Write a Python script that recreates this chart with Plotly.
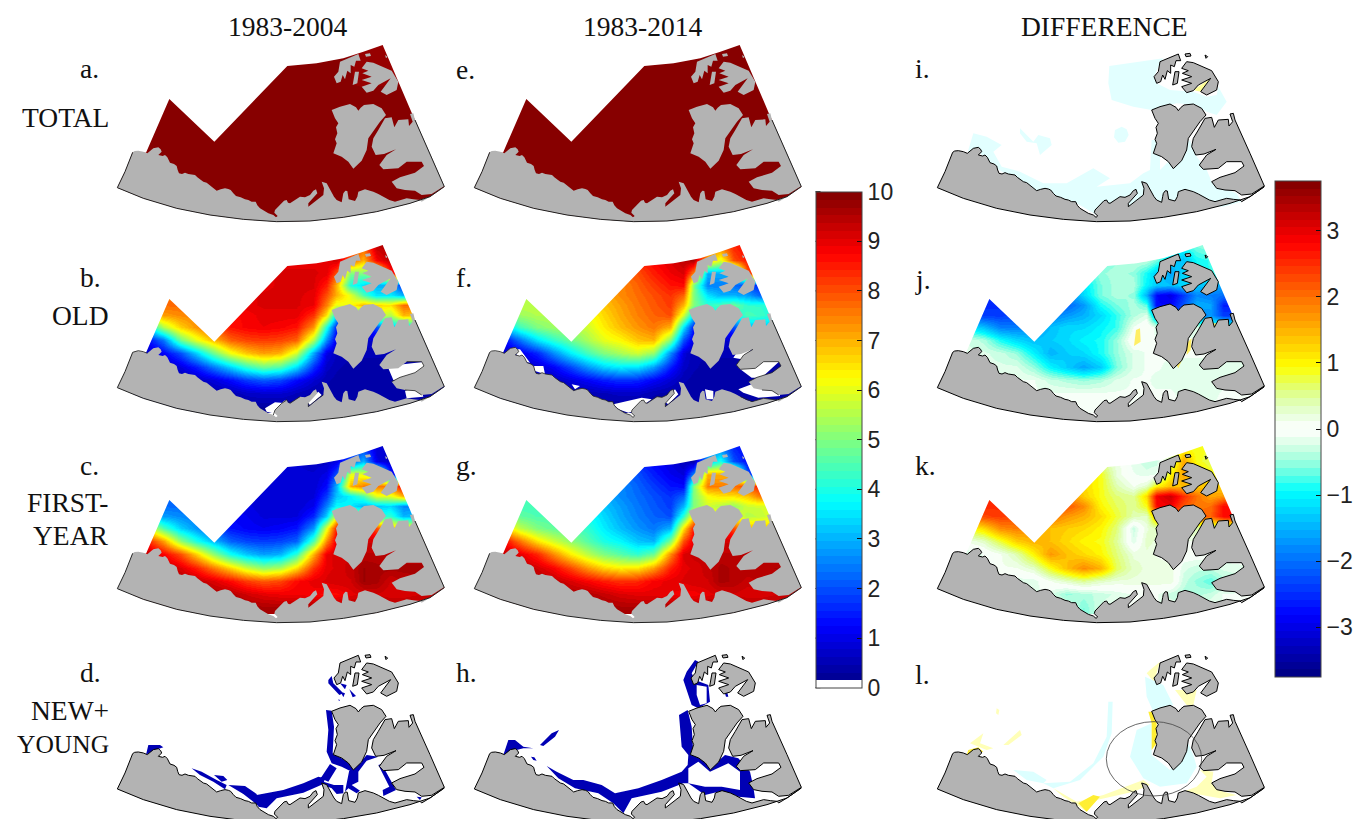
import plotly.graph_objects as go

# ---------- grid of the sea-ice fields (map units) ----------
XS = [100,160,210,260,310,360,410,460,510,560,610,650,680,720,760,800,840,880,1010]
YS = [10,60,100,135,165,195,225,260,300,340,380,420,460,500]

TOTAL_X = [100,260,310,360,680,760,1010]
TOTAL_Y = [10,130,155,185,500]
TOTAL_A = [[9.9,9.9,9.9,9.9,9.9,9.8,9.9],
           [9.9,9.9,9.9,9.9,9.9,9.8,9.9],
           [9.9,9.9,9.6,9.9,9.9,9.9,9.9],
           [9.9,9.9,9.9,9.9,9.9,9.9,9.9],
           [9.9,9.9,9.9,9.9,9.9,9.9,9.9]]
TOTAL_B = [[9.9,9.9,9.9,9.9,9.9,9.9,9.9],
           [9.9,9.9,9.9,9.9,9.9,9.9,9.9],
           [9.9,9.9,9.9,9.9,9.9,9.9,9.9],
           [9.9,9.9,9.9,9.9,9.9,9.9,9.9],
           [9.9,9.9,9.9,9.9,9.9,9.9,9.9]]

OLD_A = [
 [8,8,8,8,8,8,8,8,9,9,9,9,9,8,8,9.5,9.6,9.5,9],
 [8,8,8,8,8,8,8,9,9,9,9,9,9.2,8,7,8.8,9.4,9.4,9],
 [8,8,8,8,8,8,8.5,9,9.1,9.1,9.1,9,8,5,5,5.5,8.5,9,9],
 [8,8,8,8,8,8.5,8.8,9,9.1,9.1,9.1,8.5,7,4,3.5,3,3,1.5,1.5],
 [7.6,7.6,7.6,7.8,8,8.8,9,9.1,9.1,9.1,9,8,7,6,4.5,3.5,3.6,3,2.5],
 [7.6,7.7,7.7,7.8,8.2,9,9,9.1,9.1,9.1,8.9,7.5,6,6.2,7,6.6,6.5,7.7,7.5],
 [6.5,7.2,7.4,7.5,8.3,8.7,8.8,9,9,9,8.3,6.5,3.5,4,4,6,5.5,7,6],
 [3,5.5,6.7,7.3,8,8.6,8.8,8.9,8.8,8.6,7.3,4,1.5,1,1,2,3,3.5,3.5],
 [1,2.4,4.8,6,6.9,7.8,8.1,8.2,8.1,7.8,5.5,2.6,1,.8,.8,.8,.8,.8,.8],
 [.5,1.2,2,3.3,4.8,6.1,6.8,7.2,7,5.8,2.9,1,.6,.5,.5,.5,.5,.5,.5],
 [.3,.5,.9,1.5,2.4,3.3,4.2,4.8,4.5,3.4,1.7,.7,.5,.4,.4,.4,.4,.4,.4],
 [.3,.3,.4,.6,.9,1.3,1.8,2.1,1.9,1.3,.8,.5,.4,.4,.4,.4,.4,.4,.4],
 [.3,.3,.3,.3,.4,.5,.7,.8,.8,.6,.4,.4,.4,.4,.4,.4,.4,.4,.4],
 [.3,.3,.3,.3,.3,.3,.3,.3,.3,.3,.3,.3,.3,.3,.3,.3,.3,.3,.3]]

OLD_B = [
 [8,8,8,8,8,8,8,8,9,9,9,9.5,9.5,8,8,8.5,8.8,8.8,8.8],
 [8,8,8,8,8,8,8,8,8.4,8.8,9.1,9.4,9.6,7,6,8,8.6,8.8,8.8],
 [7,7,7,7,7,7,7.5,7.7,8,8.5,8.9,9.1,7.5,3,3,3,8,8.8,8.8],
 [6,6,6,6,6,6.5,7,7.4,7.8,8.2,8.6,8.7,5,2.5,2.5,2.3,2,1.5,1.5],
 [5.5,5.5,5.5,5.7,6,6.5,7,7.4,7.7,8,8.3,7.8,5,3.5,3,3,2.8,2.2,2],
 [5.3,5.6,5.6,5.6,5.8,6.2,6.8,7.2,7.6,7.9,8.2,7,5,4.2,4.5,4.8,4.2,4.2,3.8],
 [4.5,5.3,5.5,5.5,5.6,6.1,6.6,7.1,7.5,7.8,8,5.8,3.5,3.5,3.7,3.9,4.5,4.3,3.5],
 [3,4.4,5,5.3,5.4,5.8,6.4,6.9,7.3,7.6,7,3.5,1.5,1,1,2,3,3.2,3],
 [1,2.4,3.5,4.2,4.8,5.4,6,6.3,6.8,7,5,2,1,.8,.8,.8,.8,.8,.8],
 [.6,1,1.6,2.6,3.6,4.4,5,5.4,5.8,5.2,2.6,.9,.5,.5,.5,.5,.5,.5,.5],
 [.3,.5,.8,1.2,1.9,2.7,3.3,3.6,3.5,2.8,1.5,.7,.5,.4,.4,.4,.4,.4,.4],
 [.3,.3,.4,.6,.9,1.2,1.5,1.7,1.6,1.2,.8,.5,.4,.4,.4,.4,.4,.4,.4],
 [.3,.3,.3,.3,.4,.5,.6,.7,.7,.5,.4,.4,.4,.4,.4,.4,.4,.4,.4],
 [.3,.3,.3,.3,.3,.3,.3,.3,.3,.3,.3,.3,.3,.3,.3,.3,.3,.3,.3]]

FIRST_A = [
 [2,2,2,2,2,2,2,2,1,1,.8,.8,.8,1.5,1.5,.8,.7,.7,.7],
 [2,2,2,2,2,2,2,1,.8,.8,.7,.7,1,2,3,1,.7,.7,.7],
 [2,2,2,2,2,2,1.5,.9,.8,.8,.8,1,2,6,6,5.5,1.5,.8,.8],
 [2,2,2,2,2,1.5,1.1,.9,.8,.8,.8,1.3,3,7,7.5,7.5,7.5,9,9],
 [2.3,2.3,2.3,2.1,1.8,1.1,.9,.8,.8,.8,.9,1.8,3.2,3.7,4.5,6,6,7,7.5],
 [2.3,2.3,2.3,2.1,1.7,1,1,.8,.8,.8,1.1,2.5,3.8,3.6,3,3.2,3.4,2.6,2.5],
 [3.3,2.8,2.6,2.4,1.7,1.2,1.1,.9,.9,.9,1.6,3.3,6,5.8,5.8,4,4.2,3,3.8],
 [6.5,4.5,3.3,2.7,2,1.4,1.2,1.1,1.2,1.4,2.7,6,8.5,9,9,8,7,6.5,6.5],
 [8.8,7.2,5.2,4,3.1,2.2,1.9,1.8,1.9,2.2,4.5,7.4,9,9.2,9.2,9.2,9.2,9.2,9.2],
 [9.5,8.8,8,6.7,5.2,3.9,3.2,2.8,3,4.2,7,8.9,9.2,9.2,9.4,9.4,9.4,9.4,9.4],
 [9.7,9.5,9.1,8.5,7.6,6.7,5.8,5.2,5.5,6.6,8.3,9,9.1,9.3,9.7,9.6,9.6,9.6,9.6],
 [9.7,9.7,9.6,9.4,9.1,8.7,8.2,7.9,8.1,8.7,9,9.1,9.2,9.2,9.7,9.6,9.2,9.4,9.6],
 [9.7,9.7,9.7,9.7,9.6,9.5,9.2,9,8.9,8.9,8.8,8.7,8.7,9,9.1,9.2,9.1,9.1,9.4],
 [9.7,9.7,9.7,9.7,9.7,9.7,9.7,9.6,9.6,9.6,9.6,9.6,9.6,9.6,9.6,9.6,9.6,9.6,9.6]]

FIRST_B = [
 [2,2,2,2,2,2,2,2,1,1,.7,.5,.5,2,2,1.5,1.2,1.2,1.2],
 [2,2,2,2,2,2,2,2,1.6,1.2,.9,.6,.4,3,4,2,1.3,1.2,1.2],
 [3,3,3,3,3,3,2.5,2.3,2,1.5,1.1,.9,2.5,7,7,7,2,1.2,1.2],
 [4,4,4,4,4,3.5,3,2.6,2.2,1.8,1.4,1.3,5,7.5,7.5,7.7,8,8.5,8.5],
 [4.5,4.5,4.5,4.3,4,3.5,3,2.6,2.3,2,1.7,2.2,5,6.2,6.5,6.5,6.8,7.6,8],
 [4.7,4.4,4.4,4.4,4.2,3.8,3.2,2.8,2.4,2.1,1.8,3,5,5.8,5.5,5.2,5.8,5.8,6.2],
 [5.5,4.7,4.5,4.5,4.4,3.9,3.4,2.9,2.5,2.2,2,4.2,6.5,6.5,6.3,6.1,5.5,5.7,6.5],
 [7,5.6,5,4.7,4.6,4.2,3.6,3.1,2.7,2.4,3,6.5,8.5,9,9,8,7,6.8,7],
 [9,7.6,6.5,5.8,5.2,4.6,4,3.7,3.2,3,5,8,9,9.2,9.2,9.2,9.2,9.2,9.2],
 [9.4,9,8.4,7.4,6.4,5.6,5,4.6,4.2,4.8,7.4,9.1,9.3,9.3,9.4,9.4,9.4,9.4,9.4],
 [9.7,9.5,9.2,8.8,8.1,7.3,6.7,6.4,6.5,7.2,8.5,9,9.1,9.3,9.6,9.5,9.5,9.5,9.6],
 [9.7,9.7,9.6,9.4,9.1,8.8,8.5,8.3,8.4,8.8,9,9.1,9.2,9.2,9.6,9.5,9.3,9.4,9.6],
 [9.7,9.7,9.7,9.7,9.6,9.5,9.3,9.1,9,9,8.9,8.8,8.8,9,9.1,9.2,9.1,9.1,9.4],
 [9.7,9.7,9.7,9.7,9.7,9.7,9.7,9.6,9.6,9.6,9.6,9.6,9.6,9.6,9.6,9.6,9.6,9.6,9.6]]

DIFF_OLD = [
 [-1,-1,-1,-1,-1,-1,-1,-1,-.6,-.6,-.6,-.6,-.6,-.6,-.7,-.5,-.4,-.6,-.6],
 [-1,-1,-1,-1,-1,-1,-1,-1,-.6,-.5,-.3,-.3,-.6,-1.2,-1.4,-.9,-.8,-.8,-.8],
 [-1.2,-1.2,-1.2,-1.2,-1.2,-1.2,-1.2,-.9,-.5,-.4,-.5,-.9,-1.3,-1.6,-1.2,-1,-.8,-.8,-.8],
 [-2,-2,-2,-1.8,-1.6,-1.5,-1.4,-1.1,-.6,-.4,-.4,-1,-1.3,-1.4,-1.2,-1.3,-1.4,-1.6,-1.5],
 [-2.4,-2.7,-2.5,-2.2,-2,-2,-1.9,-1.2,-.6,-.4,-.5,-1.5,-2.8,-3,-2.4,-1.8,-1.9,-2,-2],
 [-2.2,-2.5,-2.5,-2.4,-2.2,-2.2,-2.1,-1.7,-.9,-.6,-.4,-.7,-2.8,-2.8,-2.2,-1.5,-1.6,-2.6,-2.6],
 [-2.2,-2.4,-2.4,-2.3,-2,-1.9,-1.7,-1.5,-1.2,-.8,-.4,-.2,-1.6,-2,-2,-2,-1.7,-2.4,-2.4],
 [-1,-1.4,-1.9,-1.9,-1.7,-1.4,-1.2,-1.2,-1,-.8,-.1,.1,-.2,-.2,-.2,-.2,-.5,-.5,-.5],
 [-.2,-.4,-.9,-1.2,-1.4,-1.3,-1.2,-1,-.9,-.5,.1,-.1,-.1,-.1,-.1,-.1,-.1,-.1,-.1],
 [-.2,-.2,-.3,-.5,-1,-1.5,-1.3,-1.2,-.9,-.5,-.2,-.1,-.1,-.1,-.1,-.1,-.1,-.1,-.1],
 [-.1,-.2,-.2,-.2,-.5,-1,-1.3,-1.6,-1.3,-.6,-.2,-.1,-.1,-.15,-.15,-.15,-.15,-.15,-.15],
 [-.1,-.1,-.1,-.1,-.1,-.3,-.4,-.5,-.4,-.2,-.1,-.1,-.15,-.15,-.2,-.2,-.2,-.15,-.1],
 [-.1,-.1,-.1,-.1,-.1,-.1,-.1,-.1,-.1,-.1,-.1,-.1,-.1,-.1,-.15,-.15,-.15,-.1,-.1],
 [-.1,-.1,-.1,-.1,-.1,-.1,-.1,-.1,-.1,-.1,-.1,-.1,-.1,-.1,-.1,-.1,-.1,-.1,-.1]]

DIFF_FIRST = [
 [1,1,1,1,1,1,1,1,.4,.2,-.3,-.3,.3,.4,.8,.8,.9,.9,.9],
 [1,1,1,1,1,1,1,1,.5,.2,-.2,-.3,-.3,.5,1.6,.9,.7,.9,.9],
 [1,1,1,1,1,1,1.2,1.2,.9,.2,-.1,-.2,-.1,1,1.6,1.3,.9,1,1],
 [2,2,2,1.5,1.5,1.5,1.4,1.2,.9,.4,.1,.3,1,1.4,1.4,1.3,1.4,1.2,1.2],
 [2.4,2.6,2.6,2.4,2.2,2,1.9,1.3,.9,.6,.5,1.2,2.9,3.2,2.5,2,1.6,1.7,1.8],
 [2.2,2.5,2.5,2.5,2.4,2.4,2.2,1.8,1,.7,.5,.9,2.8,2.9,2.2,1.9,2,2.8,2.8],
 [2,2.3,2.4,2.3,2.2,2,1.7,1.5,1.2,.8,.4,.3,1.5,1.7,1.9,2.2,2.1,2.8,2.8],
 [.8,1.2,1.8,1.9,1.7,1.4,1.3,1.2,1,.6,-.3,.2,.4,.4,.4,.4,.3,.2,.2],
 [.1,.3,.8,1.3,1.5,1.4,1.2,1,.9,.5,-.2,.3,.2,.1,.1,.1,.1,.1,.1],
 [-.3,-.1,.1,.4,1,1.7,1.4,1.2,1,.6,.2,.2,.1,0,0,0,0,0,0],
 [-.1,-.2,.1,.1,.3,.9,1.4,1.8,1.5,.7,.3,.2,.2,.2,-.2,-.3,-.3,-.2,-.1],
 [-.1,-.1,-.1,-.2,-.2,.1,.3,.5,.3,.2,.2,.2,.2,.2,-.3,-.5,-.7,-.4,-.1],
 [-.1,-.1,-.1,-.1,-.1,-.2,-.5,-.4,-.3,-.2,-.1,-.1,-.1,-.3,-.4,-.4,-.3,-.1,-.1],
 [-.1,-.1,-.1,-.1,-.1,-.1,-.1,-.6,-.2,-.1,-.1,-.1,-.1,-.1,-.1,-.1,-.1,-.1,-.1]]

# ---------- map outlines (map units) ----------
ARC = [(22,443),(100,475),(200,505),(300,525),(400,538),(500,545),(600,543),(700,532),(800,515),(900,490),(960,470),(1003,440)]
EAST_EDGE = [(1003,440),(960,340),(915,240),(905,218),(818,15)]
NORTH_EDGE = [(818,15),(760,35),(700,55),(620,70),(532,78)]
NOTCH = [(313,305),(178,177),(108,338),(68,337)]
WEST_EDGE = [(68,337),(45,395),(22,443)]

COAST_S = [(68,337),(74,333),(85,332),(100,335),(112,340),(122,332),(130,325),(145,322),(152,328),(155,335),(145,345),(158,348),(165,345),
           (172,352),(176,362),(180,368),(192,372),(200,378),(203,390),(207,400),(216,402),(225,398),(235,402),(245,403),(255,405),(262,412),
           (272,418),(280,425),(290,428),(300,437),(310,444),(320,452),(332,448),(345,445),(355,447),(362,450),(370,460),(378,468),(392,472),
           (405,478),(415,480),(425,485),(437,485),(442,496),(450,505),(462,513),(475,520),(490,525),(498,532),(503,528),(493,518),(495,510),
           (505,500),(515,490),(522,482),(530,480),(534,488),(540,490),(550,484),(570,470),(585,472),(600,465),(610,452),(618,448),(622,460),
           (608,475),(595,490),(595,500),(610,488),(625,475),(640,465),(642,445),(635,425),(650,430),(658,445),(665,455),(672,470),(680,480),
           (695,487),(698,470),(700,460),(706,452),(712,453),(716,478),(735,483),(742,470),(745,455),(765,448),(790,455),(805,462),(820,470),
           (838,480),(855,485),(875,480),(890,475),(910,478),(930,480),(935,485),(960,470)]
LAND_P1 = [(665,210),(690,200),(720,192),(738,202),(745,212),(752,203),(762,195),(790,192),(815,205),(828,225),(810,245),(790,275),(775,295),
           (770,330),(755,362),(730,386),(715,365),(695,350),(670,340),(680,310),(675,298),(682,280),(678,262),(685,250),(675,235)]
LAND_P2 = [(825,235),(845,232),(853,262),(865,240),(895,238),(897,258),(908,245),(900,222),(910,220),(915,240),(960,340),(1003,438),(965,462),(935,465),
           (915,452),(885,450),(860,445),(845,425),(870,412),(915,398),(942,378),(935,365),(890,365),(865,385),(820,388),(808,375),
           (830,345),(858,328),(822,342),(797,345),(785,320),(790,295),(805,270)]
ISLE_A = [(690,65),(720,52),(745,42),(752,62),(738,62),(733,80),(722,75),(722,100),(712,92),(705,118),(698,105),(692,125),(680,130),(672,110),(685,95)]
ISLE_B = [(755,85),(770,65),(790,68),(815,80),(845,92),(865,125),(860,150),(830,165),(812,155),(842,115),(805,135),(790,152),
          (770,158),(755,140),(785,130),(755,120),(785,110),(757,100),(775,92)]
ISLE_C = [(735,95),(747,95),(742,130),(728,135)]
ISLE_D = [(765,42),(780,40),(783,48),(768,50)]
ISLE_E = [(825,45),(833,50),(828,55)]
LANDS = [COAST_S + ARC[::-1] + WEST_EDGE[1:2], LAND_P1, LAND_P2, ISLE_A, ISLE_B, ISLE_C, ISLE_D, ISLE_E]

# ---------- patches that have no ice or thin features ----------
WHITE_OLD_A = [[(465,505),(495,487),(530,490),(510,525),(470,515)],
               [(590,485),(625,455),(635,465),(600,495)],
               [(835,385),(860,375),(945,365),(945,385),(880,420),(850,420)],
               [(885,452),(930,440),(940,470),(890,475)]]
WHITE_OLD_B = [[(144,328),(159,328),(189,368),(154,363)],[(199,378),(229,378),(234,403),(204,393)],[(314,433),(339,438),(324,448)],
               [(439,493),(484,483),(524,473),(554,478),(504,513),(484,518),(454,508)],[(589,483),(624,448),(634,463),(604,493)],
               [(714,448),(739,453),(739,478),(719,478)],[(814,383),(834,363),(944,358),(884,413),(854,413)],
               [(809,338),(854,328),(824,358),(799,353)],[(814,448),(854,433),(939,443),(939,468),(874,473),(829,458)]]
COAST_OLD_A = [[(68,337),(85,332),(100,335),(112,340)],
               [(490,525),(495,510),(515,490),(530,480),(540,490),(570,470)],
               [(595,490),(595,500),(625,475),(640,465)],
               [(845,425),(870,412),(915,398),(942,378),(935,365),(890,365)],
               [(885,450),(915,452),(935,465)]]
COAST_OLD_B = [COAST_S[:COAST_S.index((640,465))],
               [(845,425),(870,412),(915,398),(942,378),(935,365),(890,365),(865,385),(820,388),(808,375),(830,345),(858,328)],
               [(820,470),(855,485),(890,475),(930,480)],[(885,450),(915,452),(935,465)]]

TOTAL_DIFF_CYAN = [[(538,78),(700,55),(690,70),(672,110),(680,130),(720,150),(790,155),(830,170),(860,165),(865,140),(890,185),(860,225),
                    (830,215),(800,195),(740,190),(665,210),(610,200),(545,180),(535,130)],
                   [(115,330),(130,280),(170,290),(215,315),(190,335),(215,380),(270,395),(340,430),(410,430),(490,385),(540,415),(500,440),
                    (600,430),(640,400),(660,390),(665,300),(690,300),(690,390),(780,300),(800,350),(830,390),(845,425),(880,445),(920,460),
                    (935,485),(880,500),(700,500),(500,525),(440,490),(320,460),(200,385),(150,340),(115,345)],
                   [(270,265),(310,305),(325,285),(360,295),(365,315),(330,345),(320,310),(290,305),(270,280)],
                   [(575,260),(590,268),(596,285),(585,305),(565,308),(552,292),(555,270)]]
TOTAL_DIFF_YELLOW = [[(790,150),(842,115),(812,155)]]

OLD_DIFF_YELLOW = [[(618,270),(630,265),(632,305),(612,318)],[(770,310),(785,295),(782,330),(770,345)],
                   [(848,250),(858,250),(856,275),(848,275)],[(740,375),(755,362),(745,385)]]

YOUNG_A = [[(115,311),(150,311),(160,318),(130,328),(108,340)],[(245,381),(275,391),(320,416),(350,431),(345,444),(310,421),(270,401)],
           [(312,401),(340,404),(352,416),(335,421)],[(355,431),(405,434),(440,458),(445,494),(430,481),(400,458),(375,443)],
           [(440,461),(520,446),(580,426),(625,406),(645,411),(640,428),(580,454),(500,471),(470,501),(445,496)],
           [(648,206),(665,208),(672,256),(668,336),(700,354),(720,366),(735,381),(725,391),(695,376),(665,366),(650,331),(655,266)],
           [(660,368),(680,381),(655,421),(632,411)],[(640,421),(672,431),(700,431),(700,456),(680,458),(665,441),(640,431)],
           [(735,381),(770,341),(805,346),(770,358),(745,391),(745,421),(725,431),(750,448),(740,456),(715,441),(705,451),(710,421),(718,386)],
           [(805,371),(815,368),(858,446),(820,464),(818,446),(838,436)],[(920,466),(935,468),(930,476)],
           [(655,116),(665,104),(670,126),(700,156),(688,161),(665,136),(655,126)],[(690,126),(710,131),(705,144)],
           [(692,151),(705,156),(700,168)],[(718,144),(738,164),(728,168)],[(685,174),(690,176),(687,180)]]
YOUNG_B = [[(109,341),(124,296),(144,296),(169,316),(199,321),(169,321),(129,331)],[(219,311),(254,276),(276,266),(264,286),(229,314)],
           [(192,346),(202,348),(209,358),(199,356)],
           [(239,374),(269,391),(319,416),(349,416),(404,431),(444,456),(514,441),(584,416),(644,391),(662,371),(664,341),(644,316),(636,221),
            (662,206),(674,256),(679,336),(704,351),(729,381),(774,341),(814,351),(849,391),(859,436),(864,471),(814,466),(754,451),(714,461),
            (664,426),(649,426),(584,451),(494,471),(469,516),(439,486),(394,456),(324,441),(274,411)],
           [(684,56),(694,61),(674,96),(684,116),(724,131),(729,181),(694,201),(674,191),(649,116),(659,91)],
           [(769,141),(779,146),(784,166),(777,166)]]
YOUNG_B_HOLES = [[(664,381),(694,361),(729,391),(784,366),(819,391),(819,446),(764,436),(714,436),(664,426)],
                 [(689,131),(719,136),(719,186),(699,191),(689,161)]]

YOUNG_DIFF_PALE_Y = [[(120,306),(160,276),(150,306),(190,321),(170,326)],[(220,311),(270,266),(275,281),(235,311)],
                     [(200,201),(208,206),(205,221),(198,216)],[(690,61),(672,121),(650,96),(660,86)],[(735,146),(800,146),(790,191),(770,191)],
                     [(370,441),(440,481),(520,461),(590,436),(640,416),(660,431),(610,451),(500,476),(470,511),(440,491),(400,466)],
                     [(810,386),(850,391),(845,426),(880,451),(920,461),(870,471),(760,451),(800,436),(830,406)]]
YOUNG_DIFF_CYAN = [[(535,181),(548,181),(545,276),(520,346),(450,416),(370,441),(340,426),(420,421),(490,366),(530,286)],
                   [(250,386),(310,391),(350,416),(340,426),(290,416)],[(645,106),(700,131),(730,191),(670,211),(650,166)],
                   [(620,266),(665,246),(665,341),(720,386),(770,296),(790,341),(800,376),(770,426),(690,436),(640,411),(600,346)]]
YOUNG_DIFF_STRONG_Y = [[(115,326),(145,318),(160,331),(110,341)],[(655,211),(668,211),(680,246),(680,306),(665,326),(665,246)],
                       [(445,486),(490,461),(510,466),(470,511)]]
ELLIPSE_L = [529,241,815,464]

# ---------- tick labels and text ----------
TICKS_TOP = [0,1,2,3,4,5,6,7,8,9,10]
TICKS_DIFF = [-3,-2,-1,0,1,2,3]
DIFF_MAX = 3.75
TITLES = ["1983-2004","1983-2014","DIFFERENCE"]
PANEL_LETTERS = ["a.","b.","c.","d.","e.","f.","g.","h.","i.","j.","k.","l."]
ROW_NAMES = ["TOTAL","OLD","FIRST-","YEAR","NEW+","YOUNG"]

# ---------- layout constants ----------
W, H = 1356, 819
COL_PX = [110, 467, 930]
ROW_PX = [40, 240, 441, 641.3]
PANEL_W, PANEL_H = 345, 190
LAND = "#b3b3b3"

def jet(t):
    def c(x):
        return max(0.0, min(1.0, 1.5 - abs(4 * t - x)))
    return c(3.0), c(2.0), c(1.0)

def rgb(r, g, b):
    return f"rgb({round(r*255)},{round(g*255)},{round(b*255)})"

def stepped(colors):
    n = len(colors); out = []
    for i, col in enumerate(colors):
        out += [[i / n, col], [(i + 1) / n, col]]
    return out

levels = [(i + 0.5) / 64 for i in range(64)]
top_cols = [rgb(*jet(t)) for t in levels]
top_cols[0] = "rgb(255,255,255)"
diff_cols = []
for t in levels:
    v = abs(2 * t - 1) * DIFF_MAX
    r, g, b = jet(t)
    k = max(0.0, 1 - v / 0.94)
    diff_cols.append(rgb(r + (1 - r) * k, g + (1 - g) * k, b + (1 - b) * k))

fig = go.Figure()
layout = {}

def axes(col, row):
    n = col * 4 + row + 1
    s = "" if n == 1 else str(n)
    h = min(PANEL_H, H - ROW_PX[row])
    x0, y0 = COL_PX[col], ROW_PX[row]
    layout["xaxis" + s] = dict(domain=[x0 / W, (x0 + PANEL_W) / W], range=[0, PANEL_W * 3], visible=False, fixedrange=True)
    layout["yaxis" + s] = dict(domain=[1 - (y0 + h) / H, 1 - y0 / H], range=[h * 3, 0], visible=False, fixedrange=True)
    return "x" + s, "y" + s

def polys(ax, items, fill=None, line=None, width=1):
    xs, ys = [], []
    for p in items:
        pts = list(p) + ([p[0]] if fill else [])
        xs += [q[0] for q in pts] + [None]
        ys += [q[1] for q in pts] + [None]
    fig.add_trace(go.Scatter(x=xs, y=ys, xaxis=ax[0], yaxis=ax[1], mode="lines", hoverinfo="skip", showlegend=False,
                             fill="toself" if fill else None, fillcolor=fill,
                             line=dict(color=line or "rgba(0,0,0,0)", width=width if line else 0)))

def field(ax, z, cax, x=XS, y=YS):
    fig.add_trace(go.Heatmap(x=x, y=y, z=z, xaxis=ax[0], yaxis=ax[1], coloraxis=cax, zsmooth="best", hoverinfo="skip"))

RING = ARC + EAST_EDGE[1:] + NORTH_EDGE[1:] + NOTCH + WEST_EDGE[1:]
CORNER = [(0,-30),(1040,-30),(1040,610),(0,610),(0,-30)]
MASK = CORNER + RING + [(0,-30)]
EDGE_LINES = [ARC, WEST_EDGE, [(915,240),(960,340),(1003,440)]]

def land(ax, outline):
    polys(ax, LANDS, fill=LAND, line="#000000" if outline else None, width=1)
    if not outline:
        polys(ax, EDGE_LINES, line="#222222", width=1)

def panel(col, row, z=None, cax="coloraxis", gx=XS, gy=YS, layers=(), outline=False, coast=None):
    ax = axes(col, row)
    if z is not None:
        field(ax, z, cax, gx, gy)
        polys(ax, [MASK], fill="#ffffff")
    for items, colour in layers:
        polys(ax, items, fill=colour)
    land(ax, outline)
    if coast:
        polys(ax, coast, line="#222222", width=0.8)
    return ax

panel(0, 0, TOTAL_A, gx=TOTAL_X, gy=TOTAL_Y)
panel(0, 1, OLD_A, layers=[(WHITE_OLD_A, "#ffffff")], coast=COAST_OLD_A)
panel(0, 2, FIRST_A)
panel(0, 3, layers=[(YOUNG_A, "#0000b4")], outline=True)
panel(1, 0, TOTAL_B, gx=TOTAL_X, gy=TOTAL_Y)
panel(1, 1, OLD_B, layers=[(WHITE_OLD_B, "#ffffff")], coast=COAST_OLD_B)
panel(1, 2, FIRST_B)
panel(1, 3, layers=[(YOUNG_B, "#0000b4"), (YOUNG_B_HOLES, "#ffffff")], outline=True)
panel(2, 0, layers=[(TOTAL_DIFF_CYAN, "#e2ffff"), (TOTAL_DIFF_YELLOW, "#ffff99")], outline=True)
panel(2, 1, DIFF_OLD, cax="coloraxis2", layers=[(OLD_DIFF_YELLOW, "#ffee66")], outline=True)
panel(2, 2, DIFF_FIRST, cax="coloraxis2", outline=True)
axl = panel(2, 3, layers=[(YOUNG_DIFF_PALE_Y, "#ffffb8"), (YOUNG_DIFF_CYAN, "#dcffff"), (YOUNG_DIFF_STRONG_Y, "#ffee33")], outline=True)

def bar(x_px, top_px, bot_px, vals):
    return dict(x=x_px / W, xanchor="left", xpad=0, y=1 - bot_px / H, yanchor="bottom", ypad=0,
                len=(bot_px - top_px) / H, lenmode="fraction", thickness=46, thicknessmode="pixels",
                outlinecolor="#444444", outlinewidth=1, ticks="inside", ticklen=5, tickwidth=1, tickcolor="#111111",
                tickmode="array", tickvals=vals, ticktext=[str(v).replace("-", "\u2212") for v in vals],
                tickfont=dict(family="Liberation Sans", size=23, color="#222222"))

BAR1 = (815.5, 191.7, 687.7)
BAR2 = (1275, 181, 677)
layout["coloraxis"] = dict(cmin=0, cmax=10, colorscale=stepped(top_cols), colorbar=bar(*BAR1, TICKS_TOP))
layout["coloraxis2"] = dict(cmin=-DIFF_MAX, cmax=DIFF_MAX, colorscale=stepped(diff_cols), colorbar=bar(*BAR2, TICKS_DIFF))

shapes = [dict(type="circle", xref=axl[0], yref=axl[1], x0=ELLIPSE_L[0], y0=ELLIPSE_L[1], x1=ELLIPSE_L[2], y1=ELLIPSE_L[3],
               line=dict(color="#444444", width=0.8))]
for (x, top, bot), vals, lo, hi in ((BAR1, TICKS_TOP, 0, 10), (BAR2, TICKS_DIFF, -DIFF_MAX, DIFF_MAX)):
    for v in vals:
        py = bot - (v - lo) / (hi - lo) * (bot - top)
        shapes.append(dict(type="line", xref="paper", yref="paper", x0=x / W, x1=(x + 5) / W, y0=1 - py / H, y1=1 - py / H,
                           line=dict(color="#111111", width=1)))

def label(text, px, py, anchor="left", size=27.5):
    return dict(text=text, x=px / W, y=1 - py / H, xref="paper", yref="paper", xanchor=anchor, yanchor="middle", showarrow=False,
                font=dict(family="Liberation Serif", size=size, color="#111111"))

notes = [label(t, x, 26, "center") for t, x in zip(TITLES, (287, 642, 1104))]
letter_pos = [(78,68),(78,277),(78,465),(78,672),(454,69),(454,277),(454,465),(454,672),(913,68),(913,279),(913,465),(913,674)]
notes += [label(t, *p) for t, p in zip(PANEL_LETTERS, letter_pos)]
name_sizes = [27.5, 27.5, 27.5, 27.5, 27.5, 25.5]
notes += [label(t, 111, y, "right", s) for t, y, s in zip(ROW_NAMES, (118, 315, 502, 535, 710, 744), name_sizes)]

fig.update_layout(width=W, height=H, margin=dict(l=0, r=0, t=0, b=0, pad=0, autoexpand=False), paper_bgcolor="white",
                  plot_bgcolor="white", showlegend=False, shapes=shapes, annotations=notes, **layout)
fig.write_html("out.html", config={"displayModeBar": False}, post_script="document.body.style.margin='0';document.body.style.overflow='hidden';")
